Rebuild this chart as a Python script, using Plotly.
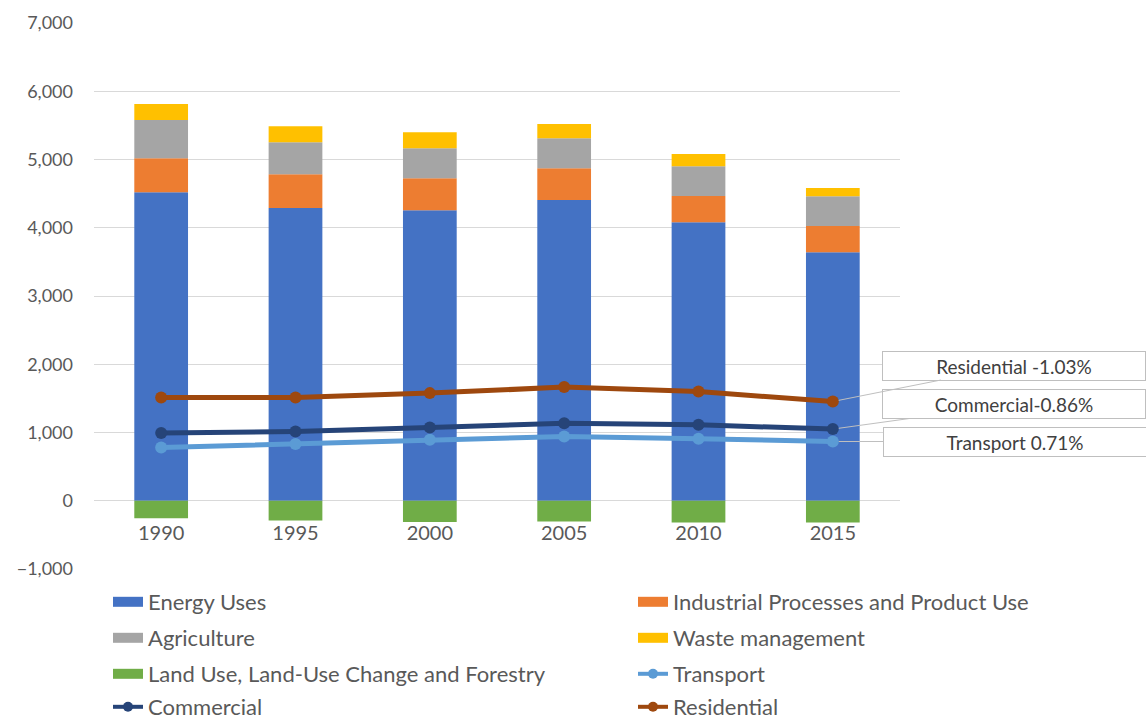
import plotly.graph_objects as go

years = ["1990", "1995", "2000", "2005", "2010", "2015"]
energy = [4520, 4290, 4256, 4407, 4080, 3641]
industrial = [498, 493, 469, 464, 386, 385]
agriculture = [560, 469, 439, 439, 434, 435]
waste = [235, 234, 234, 210, 180, 122]
lulucf = [-255, -290, -310, -305, -320, -320]
transport = [780, 830, 893, 941, 908, 868]
commercial = [991, 1015, 1073, 1137, 1113, 1050]
residential = [1513, 1513, 1577, 1665, 1600, 1454]

bar_series = [
    ("Energy Uses", energy, "#4472C4"),
    ("Industrial Processes and Product Use", industrial, "#ED7D31"),
    ("Agriculture", agriculture, "#A5A5A5"),
    ("Waste management", waste, "#FFC000"),
    ("Land Use, Land-Use Change and Forestry", lulucf, "#70AD47"),
]
line_series = [
    ("Transport", transport, "#5B9BD5", "Transport 0.71%"),
    ("Commercial", commercial, "#264478", "Commercial-0.86%"),
    ("Residential", residential, "#9E480E", "Residential -1.03%"),
]

FONT = "Lato"
TXT = "#595959"

# plot-area geometry in pixels
L, R, T, B = 94, 246, 23, 152
W, H = 1146, 721
PW, PH = W - L - R, H - T - B

fig = go.Figure()
for name, vals, col in bar_series:
    fig.add_trace(go.Bar(x=years, y=vals, name=name, marker=dict(color=col, line=dict(width=0)),
                         showlegend=False, legendgroup=name))
for name, vals, col, _ in line_series:
    fig.add_trace(go.Scatter(x=years, y=vals, name=name, mode="lines+markers",
                             line=dict(color=col, width=5), marker=dict(color=col, size=12),
                             showlegend=False, legendgroup=name))

# legend entries: two columns, four rows (one legend box per entry)
legend_items = [
    ("Energy Uses", "#4472C4", "bar"), ("Industrial Processes and Product Use", "#ED7D31", "bar"),
    ("Agriculture", "#A5A5A5", "bar"), ("Waste management", "#FFC000", "bar"),
    ("Land Use, Land-Use Change and Forestry", "#70AD47", "bar"), ("Transport", "#5B9BD5", "line"),
    ("Commercial", "#264478", "line"), ("Residential", "#9E480E", "line"),
]
col_x = [108, 633]
row_y = [602, 638, 674, 707]
layout_legends = {}
for i, (name, col, kind) in enumerate(legend_items):
    lg = "legend" if i == 0 else f"legend{i + 1}"
    if kind == "bar":
        fig.add_trace(go.Scatter(x=[None], y=[None], mode="lines", name=name,
                                 line=dict(color=col, width=14), legend=lg, legendgroup=name))
    else:
        fig.add_trace(go.Scatter(x=[None], y=[None], mode="lines+markers", name=name,
                                 line=dict(color=col, width=4), marker=dict(color=col, size=10),
                                 legend=lg, legendgroup=name))
    layout_legends[lg] = dict(orientation="h", x=(col_x[i % 2] - L) / PW, xanchor="left",
                              y=(T + PH - row_y[i // 2]) / PH, yanchor="middle",
                              font=dict(family=FONT, size=22, color=TXT),
                              bgcolor="rgba(0,0,0,0)", itemclick=False)

offsets = {"Transport": (182, 0), "Commercial": (181, -25), "Residential": (181, -36)}
for (name, vals, col, label) in line_series:
    ax, ay = offsets[name]
    fig.add_annotation(x=len(years) - 1, y=vals[-1], xref="x", yref="y", text=label,
                       showarrow=True, arrowhead=0,
                       arrowwidth=1, arrowcolor="#BFBFBF", ax=ax, ay=ay, standoff=6,
                       bgcolor="white", bordercolor="#BFBFBF", borderwidth=1, borderpad=3,
                       width=256, height=22, align="center",
                       font=dict(family=FONT, size=19, color="#404040"))

fig.update_layout(
    width=W, height=H,
    margin=dict(l=L, r=R, t=T, b=B, autoexpand=False),
    paper_bgcolor="white", plot_bgcolor="white",
    barmode="relative", bargap=0.6,
    font=dict(family=FONT, color=TXT),
    **layout_legends,
)
fig.update_xaxes(type="category", range=[-0.5, 5.5], anchor="free", position=0.125,
                 showline=False, showgrid=False, zeroline=False,
                 ticks="outside", ticklen=14, tickcolor="rgba(0,0,0,0)",
                 tickfont=dict(family=FONT, size=20, color=TXT))
fig.update_yaxes(range=[-1000, 7000], dtick=1000, tickformat=",d", showgrid=True,
                 gridcolor="#D9D9D9", gridwidth=1, zeroline=False, showline=False,
                 ticklabelstandoff=20, tickfont=dict(family=FONT, size=18, color=TXT))

fig.write_html("out.html")
